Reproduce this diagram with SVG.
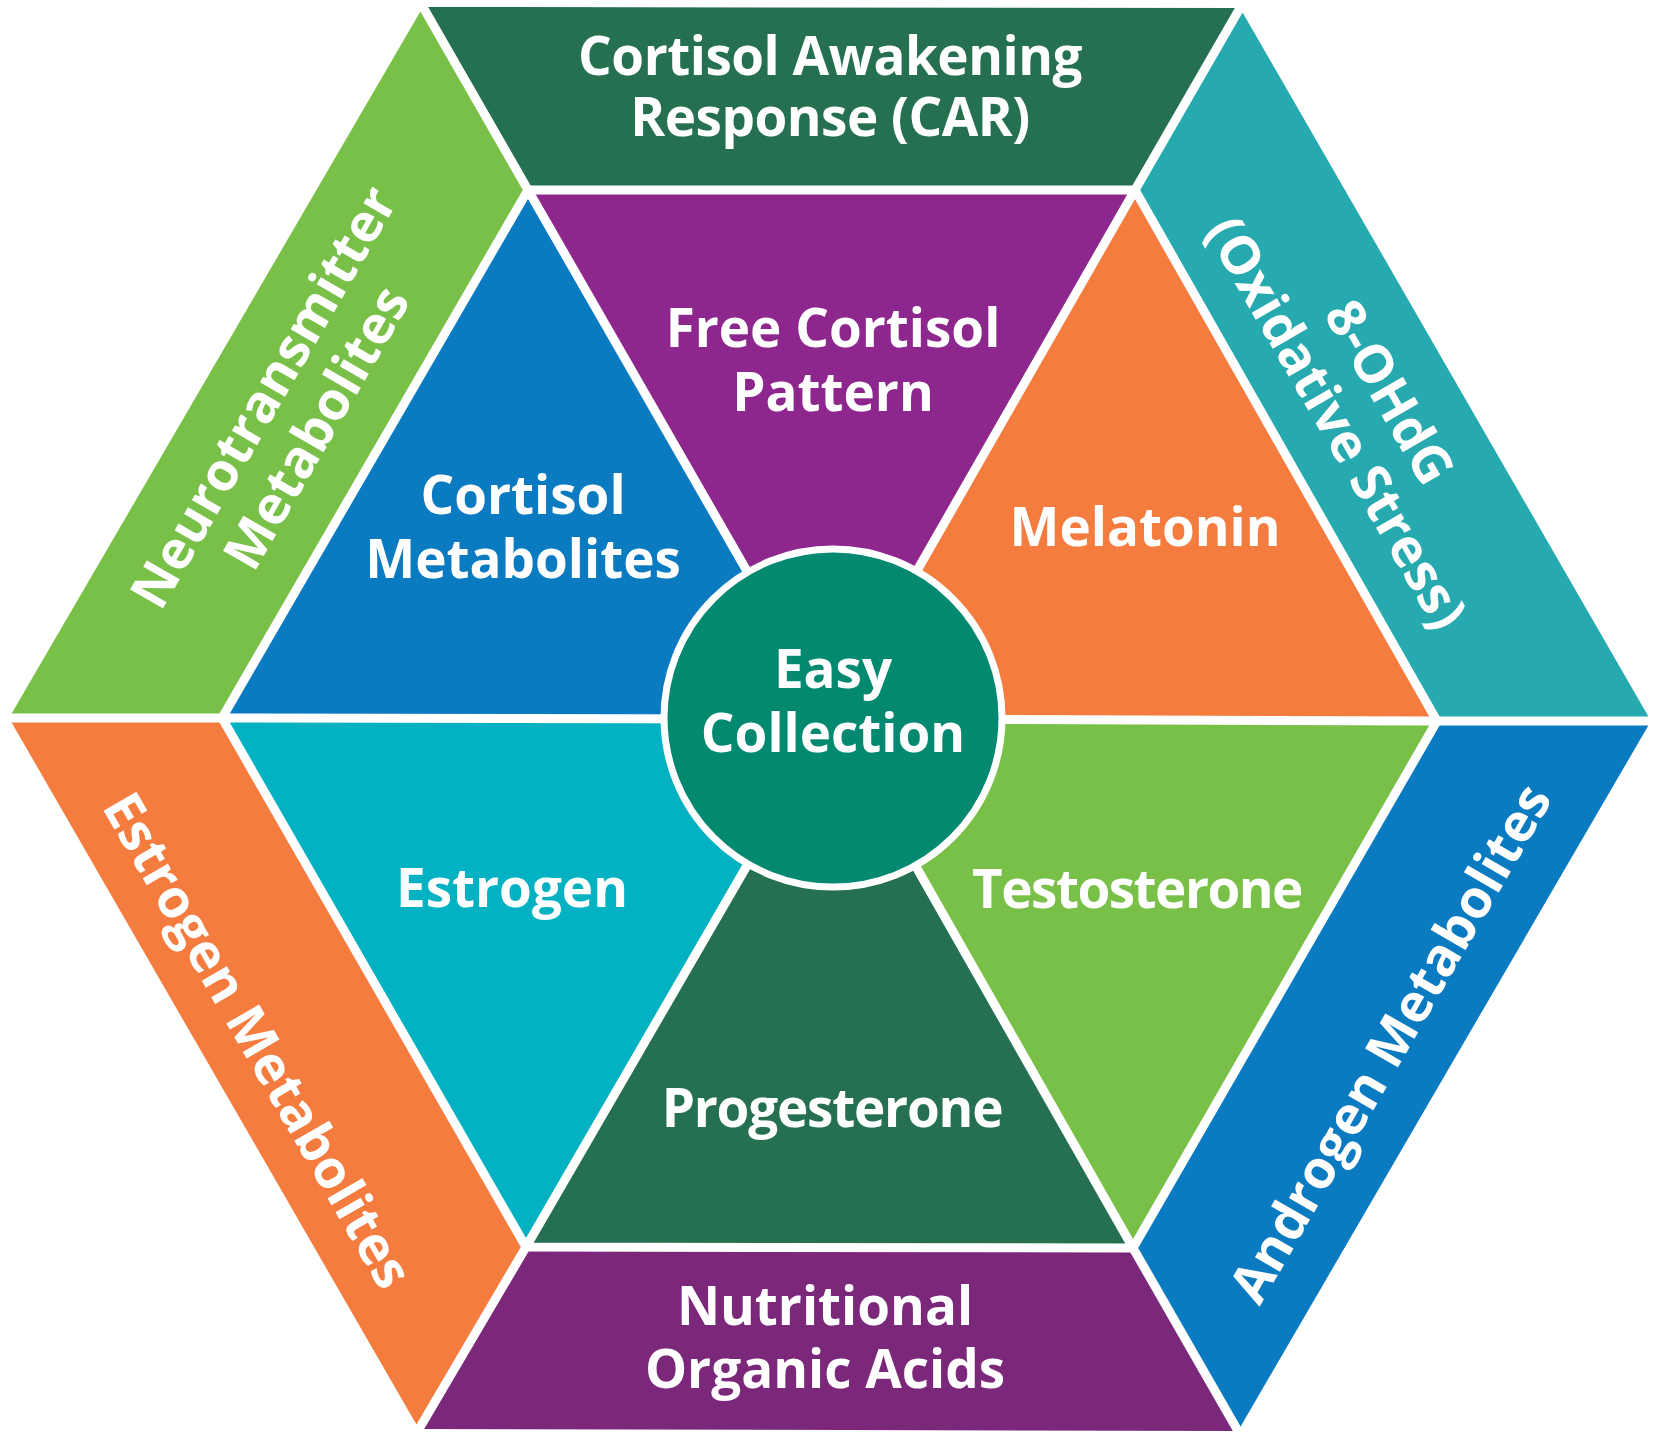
<svg xmlns="http://www.w3.org/2000/svg" width="1660" height="1440" viewBox="0 0 1660 1440">
<style>
.t{font-family:"Open Sans","Liberation Sans",sans-serif;font-weight:700;font-size:53px;fill:#fff;text-anchor:middle}
.div{stroke:#fff;stroke-width:9;fill:none;stroke-linejoin:miter}
</style>
<rect width="1660" height="1440" fill="#fff"/>
<g id="car"><polygon points="423,7 1240,8 1135,190 528,190" fill="#257050"/>
<text class="t" letter-spacing="-0.5"><tspan x="830" y="75">Cortisol Awakening</tspan><tspan x="830" y="136">Response (CAR)</tspan></text></g>
<g id="ohdg"><polygon points="1240,8 1651,721 1437,721 1135,190" fill="#26A9AF"/>
<text class="t" transform="translate(1364,407) rotate(60)"><tspan x="0" y="-11">8-OHdG</tspan><tspan x="0" y="50">(Oxidative Stress)</tspan></text></g>
<g id="androgen"><polygon points="1651,721 1238,1431 1133,1248 1437,721" fill="#0B7BC1"/>
<text class="t" transform="translate(1390,1043) rotate(-60)"><tspan x="0" y="19">Androgen Metabolites</tspan></text></g>
<g id="nutritional"><polygon points="1238,1431 419,1429 526,1247 1133,1248" fill="#7B287B"/>
<text class="t"><tspan x="825" y="1325">Nutritional</tspan><tspan x="825" y="1388">Organic Acids</tspan></text></g>
<g id="estrogen-metabolites"><polygon points="419,1429 9,718 222,718 526,1247" fill="#F47C3F"/>
<text class="t" transform="translate(258,1040) rotate(60)"><tspan x="0" y="19">Estrogen Metabolites</tspan></text></g>
<g id="neurotransmitter"><polygon points="9,718 423,7 528,190 222,718" fill="#78C047"/>
<text class="t" transform="translate(289,412) rotate(-60)"><tspan x="0" y="-11">Neurotransmitter</tspan><tspan x="0" y="50">Metabolites</tspan></text></g>
<g id="free-cortisol"><polygon points="528,190 1135,190 832,719" fill="#8E278D"/>
<text class="t"><tspan x="833" y="347">Free Cortisol</tspan><tspan x="833" y="411">Pattern</tspan></text></g>
<g id="melatonin"><polygon points="1135,190 1437,721 832,719" fill="#F47C3F"/>
<text class="t"><tspan x="1145" y="546">Melatonin</tspan></text></g>
<g id="testosterone"><polygon points="1437,721 1133,1248 832,719" fill="#78C047"/>
<text class="t" letter-spacing="-1.5"><tspan x="1137" y="908">Testosterone</tspan></text></g>
<g id="progesterone"><polygon points="1133,1248 526,1247 832,719" fill="#257050"/>
<text class="t" letter-spacing="-1.2"><tspan x="832" y="1127">Progesterone</tspan></text></g>
<g id="estrogen"><polygon points="526,1247 222,718 832,719" fill="#02B2C2"/>
<text class="t"><tspan x="512" y="907">Estrogen</tspan></text></g>
<g id="cortisol-metabolites"><polygon points="222,718 528,190 832,719" fill="#0B7BC1"/>
<text class="t"><tspan x="523" y="514">Cortisol</tspan><tspan x="523" y="578">Metabolites</tspan></text></g>
<g id="dividers">
<polygon class="div" points="222,718 528,190 1135,190 1437,721 1133,1248 526,1247"/>
<path class="div" d="M9,718L222,718M423,7L528,190M1240,8L1135,190M1651,721L1437,721M1238,1431L1133,1248M419,1429L526,1247M222,718L832,719M528,190L832,719M1135,190L832,719M1437,721L832,719M1133,1248L832,719M526,1247L832,719"/>
</g>
<g id="center"><circle cx="833" cy="718" r="169" fill="#038970" stroke="#fff" stroke-width="7"/>
<text class="t"><tspan x="833" y="688">Easy</tspan><tspan x="833" y="752">Collection</tspan></text></g>
</svg>
